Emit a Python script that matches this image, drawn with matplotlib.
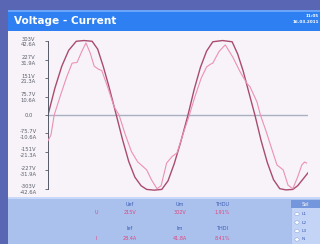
import matplotlib.pyplot as plt
from matplotlib.patches import Rectangle, Circle

# voltage trace (time in ms, volts)
t_u = [0, 1, 2, 3, 4.1, 5.2, 6.4, 7.2, 8.0, 8.8, 9.9,
       10.8, 11.7, 12.6, 13.5, 14.3, 15.4, 16.5, 17.4, 18.3, 19.2, 20.3,
       21.2, 22.1, 23.0, 23.9, 25.3, 26.7, 27.5, 28.3, 29.1, 30.0,
       30.9, 31.8, 32.7, 33.6, 34.5, 35.5, 36.2, 37.0, 37.7]
u = [0, 110, 200, 265, 302, 305, 302, 270, 200, 120, 0,
     -100, -190, -255, -290, -305, -308, -305, -270, -200, -115, 0,
     105, 195, 262, 300, 305, 300, 250, 180, 95, 0,
     -105, -195, -265, -302, -307, -305, -290, -262, -237]

# current trace (time in ms, amps)
t_i = [0, 0.43, 0.9, 1.8, 2.7, 3.5, 4.2, 4.9, 5.5, 6.1, 6.7, 7.3, 7.8, 8.7, 9.6, 10.3,
       11.2, 12.1, 13.0, 14.3, 15.0, 15.8, 16.4, 17.2, 18.0, 18.7, 19.5, 20.5,
       21.3, 22.2, 23.0, 23.5, 23.9, 24.8, 25.7, 26.8, 27.8, 28.8, 29.3, 30.3, 30.8,
       31.6, 32.4, 33.2, 34.1, 34.8, 35.5, 36.2, 36.8, 37.2, 37.5]
i = [-14.8, -11.5, 0, 11.2, 21.8, 29.9, 30.2, 36.6, 41.5, 35.9, 28.1, 26.4, 25.6, 15.5, 4.6, 0,
     -11.2, -21.1, -27.0, -31.6, -37.3, -42.5, -40.8, -27.7, -23.9, -21.9, -12.0, 0,
     10.5, 21.1, 27.7, 29.1, 29.9, 36.6, 40.4, 33.3, 25.3, 18.4, 16.2, 7.5, 0,
     -9.1, -19.0, -28.8, -31.6, -40.4, -42.5, -35.7, -28.8, -27.1, -27.7]

ticks_u = [-303, -227, -151, -75.7, 0, 75.7, 151, 227, 303]
tick_labels = ['-303V\n-42.6A', '-227V\n-31.9A', '-151V\n-21.3A', '-75.7V\n-10.6A', '0.0',
               '75.7V\n10.6A', '151V\n21.3A', '227V\n31.9A', '303V\n42.6A']
amp_per_volt = 42.6 / 303

headers_u = ['Uef', 'Um', 'THDU']
values_u = ['215V', '302V', '1.91%']
headers_i = ['Ief', 'Im', 'THDI']
values_i = ['28.4A', '41.8A', '8.41%']
sel_items = ['L1', 'L2', 'L3', 'N']

W, H = 320, 244
fig = plt.figure(figsize=(3.2, 2.44), dpi=100, facecolor='#5866b4')


def box(x0, y0, x1, y1, color, ec='none', lw=0):
    fig.add_artist(Rectangle((x0 / W, 1 - y1 / H), (x1 - x0) / W, (y1 - y0) / H,
                             transform=fig.transFigure, facecolor=color,
                             edgecolor=ec, lw=lw, zorder=-5))


def txt(x, y, s, **kw):
    fig.text(x / W, 1 - y / H, s, **kw)


# screen parts
box(8, 10, 320, 197, '#f7f3f8')
box(8, 10, 320, 31, '#2d7ff2')
box(8, 10, 320, 12, '#6aa4f8')
box(8, 197, 320, 244, '#aac1ee')
box(8, 197, 320, 199, '#c8d8f8')
box(291, 200, 320, 244, '#c4d4f6', ec='#a4bcec', lw=0.6)
box(291, 200, 320, 208, '#7496dc')

txt(14, 21, 'Voltage - Current', color='white', fontsize=7.6, fontweight='bold', va='center')
txt(319, 16, '11:05', color='white', fontsize=3, fontweight='bold', va='center', ha='right')
txt(319, 22, '16.03.2011', color='white', fontsize=3, fontweight='bold', va='center', ha='right')

# measurement table
cols = [130, 180, 222]
for x, h, v in zip(cols, headers_u, values_u):
    txt(x, 204, h, color='#3b5cb2', fontsize=3.5, ha='center', va='center')
    txt(x, 213, v, color='#e2457c', fontsize=3.5, ha='center', va='center')
for x, h, v in zip(cols, headers_i, values_i):
    txt(x, 228, h, color='#3b5cb2', fontsize=3.5, ha='center', va='center')
    txt(x, 239, v, color='#e2457c', fontsize=3.5, ha='center', va='center')
txt(96, 213, 'U', color='#e2457c', fontsize=3.5, ha='center', va='center')
txt(96, 239, 'I', color='#e2457c', fontsize=3.5, ha='center', va='center')

txt(305, 204, 'Sel', color='white', fontsize=3.5, ha='center', va='center')
for k, name in enumerate(sel_items):
    y = 214 + 8.5 * k
    fig.add_artist(Circle((297 / W, 1 - y / H), 2.2 / W, transform=fig.transFigure,
                          facecolor='white', edgecolor='#8aa6e0', lw=0.4))
    txt(302, y, name, color='#3b5cb2', fontsize=3.2, va='center')

# waveform axes
ax = fig.add_axes([48 / W, 48 / H, 260 / W, 164 / H])
ax.set_facecolor('none')
ax.set_xlim(0, 37.7)
ax.set_ylim(-332, 340)
ax.axhline(0, color='#a9b0c2', lw=1.0)
ax.plot(t_u, u, color='#a94c6e', lw=1.0)
ax.set_yticks(ticks_u, tick_labels)
ax.tick_params(axis='y', length=2.5, width=0.6, color='#555a66', pad=11.5,
               labelsize=3.8, labelcolor='#5c606e')
for lab in ax.get_yticklabels():
    lab.set_ha('center')
    lab.set_multialignment('center')
ax.set_xticks([])
for side in ['top', 'right', 'bottom']:
    ax.spines[side].set_visible(False)
ax.spines['left'].set_bounds(-303, 303)
ax.spines['left'].set_color('#555a66')
ax.spines['left'].set_linewidth(0.7)

axi = ax.twinx()
axi.set_ylim(-332 * amp_per_volt, 340 * amp_per_volt)
axi.plot(t_i, i, color='#ec91b4', lw=0.8)
axi.axis('off')

fig.savefig('out.png', dpi=100, facecolor=fig.get_facecolor())
